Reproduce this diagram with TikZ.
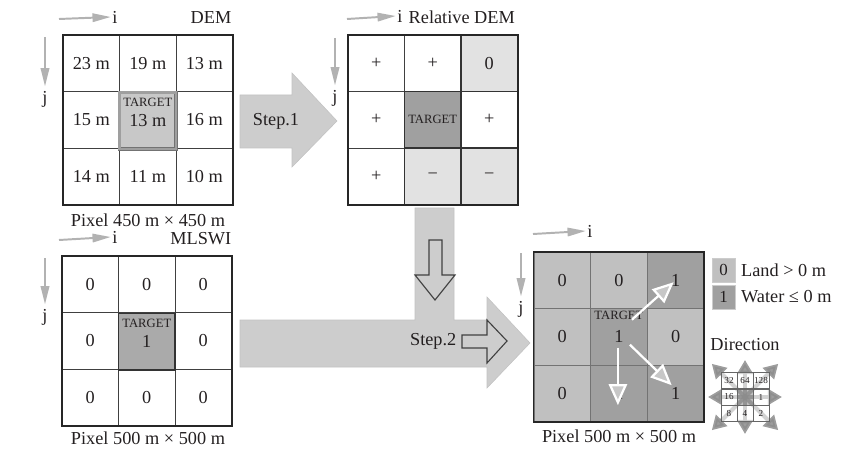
\documentclass[tikz,border=0pt]{standalone}
\usepackage{fontspec}
\setmainfont{Liberation Serif}
\usetikzlibrary{arrows.meta}
\definecolor{txt}{HTML}{231F20}
\definecolor{landgray}{RGB}{192,192,192}
\definecolor{watergray}{RGB}{160,160,160}
\definecolor{palegray}{RGB}{226,226,226}
\definecolor{demgray}{RGB}{200,200,200}
\definecolor{arrowgray}{RGB}{205,205,205}
\definecolor{axisgray}{RGB}{178,178,178}
\newcommand{\fsz}[1]{\fontsize{#1}{#1}\selectfont}

\begin{document}
\begin{tikzpicture}[
    x=0.025cm, y=-0.025cm,
    cell/.style={draw=black!75, line width=0.5pt, minimum width=1.4125cm,
                 minimum height=1.4125cm, inner sep=0pt, align=center,
                 font=\fsz{13}, text=txt},
    shaded/.style={cell, line width=1.1pt, draw=black!80},
    frame/.style={draw=black!85, line width=1.4pt},
    tag/.style={font=\fsz{9}, text=txt, inner sep=0pt},
    plain/.style={font=\fsz{13}, text=txt, inner sep=1pt},
    axis/.style={draw=axisgray, line width=1.4pt,
                 -{Triangle[length=13pt,width=6pt]}},
    bigarrow/.style={fill=arrowgray, draw=black!24, line width=0.4pt},
    outline/.style={draw=black!75, line width=0.8pt, line join=miter},
    flow/.style={draw=white, line width=1.6pt,
                 -{Triangle[length=15pt,width=13pt,fill=black!22]}},
    legbox/.style={minimum width=0.575cm, minimum height=0.6cm, inner sep=0pt,
                   draw=black!20, font=\fsz{12}, text=txt},
    dircell/.style={draw=black!60, line width=0.3pt, minimum width=0.4cm,
                    minimum height=0.41cm, inner sep=0pt, fill=white,
                    fill opacity=0.55, text opacity=1, font=\fsz{6.5}, text=txt},
    compass/.style={draw=black!45, line width=3pt, opacity=0.85,
                    -{Triangle[length=10pt,width=11pt]}},
]
\useasboundingbox (0,0) rectangle (853,465);

% Schritt 1 und 2 (Pfeile im Hintergrund)
\path[bigarrow] (240,95) -- (292,95) -- (292,73) -- (337,121) -- (292,167)
    -- (292,148) -- (240,148) -- cycle;
\node[plain] (step1) at (276,121) {Step.1};

\path[bigarrow] (240,320) -- (415,320) -- (415,208) -- (454,208) -- (454,320)
    -- (487,320) -- (487,297) -- (530,343) -- (487,388) -- (487,367)
    -- (240,367) -- cycle;
\draw[outline] (429,240) -- (442,240) -- (442,275) -- (455,275) -- (435,300)
    -- (415,275) -- (429,275) -- cycle;
\draw[outline] (462,335) -- (487,335) -- (487,320) -- (507,341) -- (487,363)
    -- (487,348) -- (462,348) -- cycle;
\node[plain, anchor=east] (step2) at (458,341) {Step.2};

% DEM
\foreach \c/\r/\v in {1/1/23 m, 2/1/19 m, 3/1/13 m, 1/2/15 m, 3/2/16 m,
                      1/3/14 m, 2/3/11 m, 3/3/10 m}
  \node[cell] (dem\r\c) at ({34.8+56.5*\c},{6.8+56.5*\r}) {\v};
\draw[frame] (dem11.north west) rectangle (dem33.south east);
\node[cell, fill=demgray, draw=black!55, line width=0.5pt, double=gray!75,
      double distance=1.6pt,
      label={[tag, yshift=13pt]center:TARGET}] (dem22) at (147.8,120.8) {13 m};
\node[plain, anchor=east] (demtitle) at (233,18) {DEM};
\node[plain] (demi) at (115,17) {i};
\node[plain] (demj) at (45,99) {j};
\coordinate (demi0) at (59,19);
\coordinate (demj0) at (45,37);
\draw[axis] (demi0) -- (demi.west);
\draw[axis] (demj0) -- ([yshift=2pt]demj.north);
\node[plain] (dempix) at (148,220) {Pixel 450 m × 450 m};

% Relative DEM
\foreach \c/\r in {1/1, 2/1, 1/2, 3/2, 1/3}
  \node[cell] (rel\r\c) at ({319.7+56.5*\c},{6.8+56.5*\r}) {+};
\node[shaded, fill=palegray] (rel13) at (489.2,63.3) {0};
\node[shaded, fill=palegray] (rel32) at (432.7,176.3) {−};
\node[shaded, fill=palegray] (rel33) at (489.2,176.3) {−};
\node[shaded, fill=watergray, font=\fsz{9}] (rel22) at (432.7,119.8) {TARGET};
\draw[frame] (rel11.north west) rectangle (rel33.south east);
\node[plain, anchor=west] (reltitle) at (407,17) {Relative DEM};
\node[plain] (reli) at (400,16) {i};
\node[plain] (relj) at (335,98) {j};
\coordinate (reli0) at (347,19);
\coordinate (relj0) at (335,38);
\draw[axis] (reli0) -- (reli.west);
\draw[axis] (relj0) -- ([yshift=2pt]relj.north);

% MLSWI
\foreach \c/\r in {1/1, 2/1, 3/1, 1/2, 3/2, 1/3, 2/3, 3/3}
  \node[cell] (ml\r\c) at ({33.8+56.5*\c},{227.8+56.5*\r}) {0};
\draw[frame] (ml11.north west) rectangle (ml33.south east);
\node[shaded, fill=watergray!90, label={[tag, yshift=13pt]center:TARGET}]
    (ml22) at (146.8,341.8) {1};
\node[plain, anchor=east] (mltitle) at (233,239) {MLSWI};
\node[plain] (mli) at (115,237) {i};
\node[plain] (mlj) at (45,317) {j};
\coordinate (mli0) at (59,240);
\coordinate (mlj0) at (45,258);
\draw[axis] (mli0) -- (mli.west);
\draw[axis] (mlj0) -- ([yshift=2pt]mlj.north);
\node[plain] (mlpix) at (148,438) {Pixel 500 m × 500 m};

% Ergebnis
\foreach \c/\r in {1/1, 2/1, 1/2, 3/2, 1/3}
  \node[cell, fill=landgray, draw=black!55] (res\r\c)
      at ({505.3+56.8*\c},{223.7+56.5*\r}) {0};
\foreach \c/\r in {3/1, 2/2, 2/3, 3/3}
  \node[cell, fill=watergray, draw=black!55] (res\r\c)
      at ({505.3+56.8*\c},{223.7+56.5*\r}) {1};
\node[tag] (restag) at ([yshift=15pt]res22.center) {TARGET};
\draw[frame] (res11.north west) rectangle (res33.south east);
\draw[flow] ([shift={(13,-17)}]res22.center) -- ([shift={(-2,2)}]res13.center);
\draw[flow] ([shift={(-1,11)}]res22.center) -- ([shift={(-1,12)}]res32.center);
\draw[flow] ([shift={(11,8)}]res22.center) -- ([shift={(-4,-8)}]res33.center);
\node[plain] (resi) at (590,231) {i};
\node[plain] (resj) at (521,309) {j};
\coordinate (resi0) at (533,234);
\coordinate (resj0) at (521,253);
\draw[axis] (resi0) -- (resi.west);
\draw[axis] (resj0) -- ([yshift=2pt]resj.north);
\node[plain] (respix) at (619,436) {Pixel 500 m × 500 m};

% Legende
\node[legbox, fill=landgray] (leg0) at (723.5,270) {0};
\node[legbox, fill=watergray] (leg1) at (723.5,297) {1};
\node[plain, anchor=west] (legland) at ([xshift=3pt]leg0.east) {Land > 0 m};
\node[plain, anchor=west] (legwater) at ([xshift=3pt]leg1.east) {Water ≤ 0 m};

% Richtung
\node[plain] (dirtitle) at (745,345) {Direction};
\coordinate (dirc) at (745,397);
\foreach \a in {0,90,180,270}
  \draw[compass] (dirc) -- ++(\a:37);
\foreach \a in {45,135,225,315}
  \draw[compass] (dirc) -- ++(\a:47);
\foreach \c/\r/\v in {1/1/32, 2/1/64, 3/1/128, 1/2/16, 3/2/1, 1/3/8, 2/3/4, 3/3/2}
  \node[dircell] (dir\r\c) at ({713+16*\c},{380.5+16.5*(\r-1)}) {\v};
\node[dircell, fill=black!45] (dir22) at (745,397) {};

\end{tikzpicture}
\end{document}
